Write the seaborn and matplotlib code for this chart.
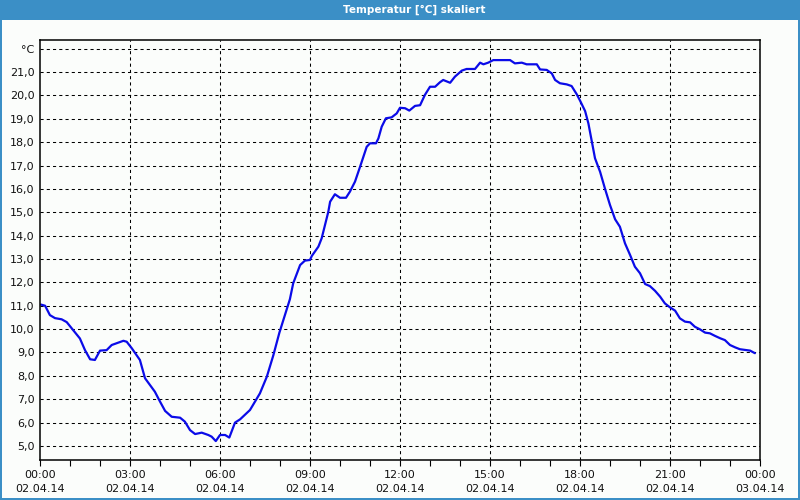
import matplotlib
matplotlib.use("Agg")
import matplotlib.pyplot as plt
from matplotlib.patches import Rectangle
import seaborn as sns
import pandas as pd

hours = [0.03, 0.17, 0.33, 0.5, 0.72, 0.89, 1.06, 1.33, 1.5, 1.67, 1.83, 2.0, 2.22, 2.39, 2.61, 2.78, 2.89,
         3.06, 3.33, 3.5, 3.67, 3.83, 4.0, 4.17, 4.39, 4.67, 4.83, 5.0, 5.17, 5.39, 5.61, 5.72, 5.86,
         6.0, 6.17, 6.31, 6.5, 6.67, 7.0, 7.33, 7.56, 7.78, 7.98, 8.33, 8.44, 8.67, 8.83,
         9.0, 9.06, 9.28, 9.39, 9.5, 9.61, 9.67, 9.83, 10.0, 10.2, 10.33, 10.5, 10.67, 10.89,
         11.0, 11.2, 11.28, 11.39, 11.53, 11.72, 11.89, 12.0, 12.17, 12.31, 12.5, 12.67, 12.83,
         13.0, 13.17, 13.33, 13.44, 13.67, 13.83, 14.06, 14.22, 14.5, 14.67, 14.78, 14.94,
         15.11, 15.67, 15.83, 16.06, 16.22, 16.56, 16.67, 16.89, 17.06, 17.17, 17.33, 17.56,
         17.72, 17.89, 18.0, 18.17, 18.28, 18.39, 18.5, 18.67, 18.83, 19.0, 19.17, 19.33,
         19.5, 19.67, 19.83, 20.0, 20.17, 20.33, 20.5, 20.67, 20.83, 21.0, 21.17, 21.33,
         21.5, 21.67, 21.83, 22.0, 22.17, 22.33, 22.5, 22.67, 22.83, 23.0, 23.17, 23.33,
         23.67, 23.83]
temps = [11.05, 11.0, 10.6, 10.47, 10.42, 10.3, 10.03, 9.6, 9.1, 8.71, 8.68, 9.08, 9.1, 9.32, 9.42, 9.5, 9.46,
         9.18, 8.68, 7.9, 7.6, 7.32, 6.9, 6.5, 6.25, 6.21, 6.04, 5.68, 5.51, 5.57, 5.47, 5.4, 5.21,
         5.47, 5.47, 5.36, 6.0, 6.14, 6.54, 7.25, 7.96, 8.89, 9.85, 11.28, 11.96, 12.74, 12.93,
         12.96, 13.13, 13.53, 13.89, 14.45, 15.02, 15.45, 15.77, 15.62, 15.62, 15.88, 16.31, 16.95, 17.8,
         17.95, 17.95, 18.16, 18.66, 19.02, 19.06, 19.23, 19.47, 19.45, 19.35, 19.55, 19.58, 20.02,
         20.37, 20.37, 20.56, 20.66, 20.54, 20.8, 21.06, 21.13, 21.13, 21.4, 21.33, 21.4,
         21.51, 21.51, 21.37, 21.4, 21.33, 21.33, 21.11, 21.09, 20.94, 20.66, 20.52, 20.47,
         20.4, 20.05, 19.78, 19.33, 18.8, 18.05, 17.31, 16.73, 16.02, 15.31, 14.7, 14.38,
         13.67, 13.17, 12.67, 12.39, 11.93, 11.84, 11.64, 11.39, 11.1, 10.93, 10.79, 10.46,
         10.32, 10.29, 10.1, 9.99, 9.85, 9.82, 9.71, 9.61, 9.53, 9.32, 9.22, 9.14,
         9.08, 8.97]

x_tick_hours = [0, 3, 6, 9, 12, 15, 18, 21, 24]
x_tick_labels = ["00:00\n02.04.14", "03:00\n02.04.14", "06:00\n02.04.14", "09:00\n02.04.14",
                 "12:00\n02.04.14", "15:00\n02.04.14", "18:00\n02.04.14", "21:00\n02.04.14",
                 "00:00\n03.04.14"]
y_tick_values = list(range(5, 23))
y_tick_labels = [f"{v},0" for v in range(5, 22)] + ["°C"]
title = "Temperatur [°C] skaliert"

sns.set_theme(style="white")
plt.rcParams["font.family"] = ["DejaVu Sans"]
bg = "#fbfdfb"
blue_bar = "#3b8fc6"

fig = plt.figure(figsize=(8, 5), dpi=100, facecolor=bg)
ax = fig.add_axes([0.05, 0.08, 0.90, 0.84])
ax.set_facecolor(bg)

df = pd.DataFrame({"h": hours, "t": temps})
sns.lineplot(data=df, x="h", y="t", ax=ax, color="#0b0be8", linewidth=1.6)

ax.set_xlim(0, 24)
ax.set_ylim(4.40, 22.37)
ax.set_xticks(x_tick_hours)
ax.set_xticklabels(x_tick_labels, fontsize=8, color="#111111", linespacing=1.5)
ax.set_xticks(range(0, 25), minor=True)
ax.set_yticks(y_tick_values)
ax.set_yticklabels(y_tick_labels, fontsize=8, color="#111111")
ax.set_xlabel("")
ax.set_ylabel("")

ax.tick_params(axis="x", which="both", direction="out", length=4, width=0.8, color="black", pad=3.5, bottom=True)
ax.tick_params(axis="y", which="both", length=0, pad=4, left=False)

for v in y_tick_values:
    ax.axhline(v, color="black", linewidth=0.75, linestyle=(0, (3, 3)), zorder=1)
for h in x_tick_hours[1:-1]:
    ax.axvline(h, color="black", linewidth=0.75, linestyle=(0, (3, 3)), zorder=1)

for s in ax.spines.values():
    s.set_visible(True)
    s.set_color("black")
    s.set_linewidth(1.1)

# window chrome
fig.add_artist(Rectangle((0, 1 - 20 / 500), 1, 20 / 500, transform=fig.transFigure,
                         facecolor=blue_bar, edgecolor="none", zorder=0))
fig.add_artist(Rectangle((0, 0), 2 / 800, 1, transform=fig.transFigure,
                         facecolor=blue_bar, edgecolor="none", zorder=0))
fig.add_artist(Rectangle((1 - 2 / 800, 0), 2 / 800, 1, transform=fig.transFigure,
                         facecolor=blue_bar, edgecolor="none", zorder=0))
fig.add_artist(Rectangle((0, 0), 1, 2 / 500, transform=fig.transFigure,
                         facecolor=blue_bar, edgecolor="none", zorder=0))
fig.text(414 / 800, 1 - 10 / 500, title, ha="center", va="center", color="white",
         fontsize=7.5, fontweight="bold")

fig.savefig("out.png", dpi=100, facecolor=bg)
